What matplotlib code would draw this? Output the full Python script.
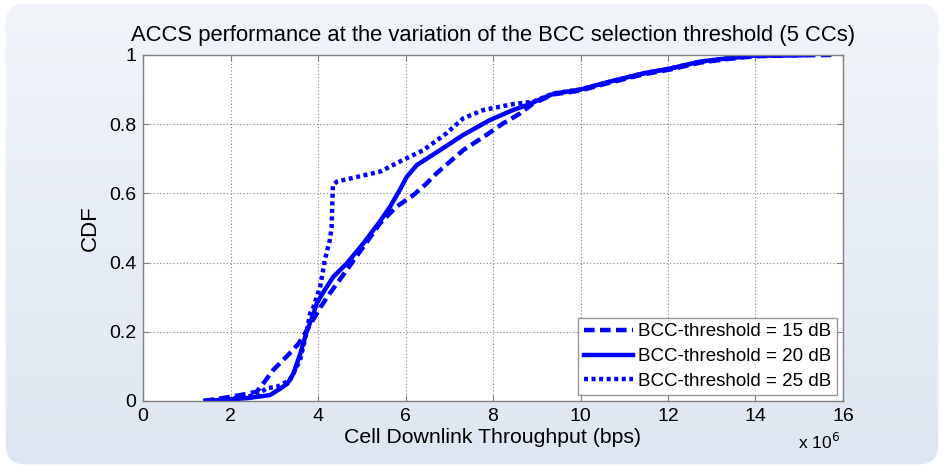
import numpy as np
import matplotlib
matplotlib.use("Agg")
import matplotlib.pyplot as plt
from matplotlib.patches import FancyBboxPatch

plt.rcParams['font.family'] = ['Liberation Sans', 'DejaVu Sans']

# Throughput in units of 1e6 bps, and the CDF value at each point
x_15 = [1.38, 1.8, 2.22, 2.6, 2.75, 2.98, 3.28, 3.55, 3.82, 4.05, 4.27, 4.66, 5.04,
        5.42, 5.80, 6.18, 6.45, 6.71, 7.0, 7.32, 7.85, 8.24, 8.62, 8.92, 9.38, 9.99,
        10.67, 11.44, 12.05, 12.74, 13.34, 13.95, 14.8, 15.78]
y_15 = [0.0, 0.008, 0.017, 0.027, 0.051, 0.09, 0.128, 0.165, 0.22, 0.27, 0.311, 0.379, 0.446,
        0.514, 0.562, 0.595, 0.625, 0.658, 0.69, 0.725, 0.769, 0.803, 0.831, 0.86, 0.886, 0.897,
        0.92, 0.944, 0.958, 0.978, 0.988, 0.996, 0.999, 1.0]

x_20 = [1.45, 1.9, 2.37, 2.9, 3.13, 3.3, 3.44, 3.59, 3.74, 3.89, 3.97, 4.15, 4.35, 4.66,
        5.04, 5.42, 5.65, 5.87, 6.03, 6.26, 6.79, 7.32, 7.93, 8.46, 8.77, 9.38, 9.99,
        10.67, 11.44, 12.05, 12.74, 13.34, 13.95, 14.6, 15.2]
y_20 = [0.0, 0.004, 0.008, 0.017, 0.035, 0.05, 0.08, 0.135, 0.2, 0.25, 0.282, 0.32, 0.359, 0.398,
        0.456, 0.52, 0.562, 0.61, 0.648, 0.682, 0.725, 0.769, 0.812, 0.841, 0.855, 0.888, 0.9,
        0.923, 0.947, 0.961, 0.981, 0.99, 0.998, 0.999, 1.0]

x_25 = [1.38, 2.0, 2.6, 2.83, 3.06, 3.36, 3.59, 3.74, 3.82, 3.89, 4.05, 4.16, 4.27, 4.31,
        4.34, 4.43, 5.42, 5.95, 6.41, 6.94, 7.32, 7.78, 8.46, 8.92, 9.38, 9.99, 10.67,
        11.44, 12.05, 12.74, 13.34, 13.95, 14.6, 15.2]
y_25 = [0.0, 0.006, 0.017, 0.037, 0.041, 0.061, 0.118, 0.2, 0.253, 0.27, 0.33, 0.41, 0.465, 0.5,
        0.624, 0.634, 0.663, 0.697, 0.725, 0.774, 0.817, 0.841, 0.858, 0.865, 0.889, 0.9, 0.923,
        0.947, 0.961, 0.981, 0.99, 0.998, 0.999, 1.0]

labels = ['BCC-threshold = 15 dB', 'BCC-threshold = 20 dB', 'BCC-threshold = 25 dB']
x_ticks = [0, 2, 4, 6, 8, 10, 12, 14, 16]
y_ticks = [0, 0.2, 0.4, 0.6, 0.8, 1]
y_tick_labels = ['0', '0.2', '0.4', '0.6', '0.8', '1']

fig = plt.figure(figsize=(9.44, 4.68), dpi=100, facecolor='white')

# Rounded, softly shaded panel behind the plot
bg_ax = fig.add_axes([0, 0, 1, 1], zorder=-10)
bg_ax.set_xlim(0, 1)
bg_ax.set_ylim(0, 1)
bg_ax.axis('off')
panel = FancyBboxPatch((0.006, 0.008), 0.988, 0.984,
                       boxstyle="round,pad=0,rounding_size=0.02",
                       transform=bg_ax.transAxes, facecolor='none', edgecolor='none',
                       mutation_aspect=944 / 468)
bg_ax.add_patch(panel)
grad = np.linspace(0, 1, 256).reshape(-1, 1)
top_c = np.array([0.945, 0.961, 0.980])
bot_c = np.array([0.870, 0.902, 0.945])
img = top_c[None, None, :] * (1 - grad[..., None]) + bot_c[None, None, :] * grad[..., None]
im = bg_ax.imshow(img, extent=[0, 1, 0, 1], origin='upper', aspect='auto',
                  transform=bg_ax.transAxes)
im.set_clip_path(panel)

ax = fig.add_axes([0.1515, 0.1432, 0.7415, 0.7393])
ax.set_facecolor('white')

lw = 3.2
ax.plot(x_15, y_15, color='#0000ff', lw=lw, ls=(0, (2.4, 1.2)), label=labels[0])
ax.plot(x_20, y_20, color='#0000ff', lw=lw, ls='-', label=labels[1])
ax.plot(x_25, y_25, color='#0000ff', lw=lw, ls=(0, (0.9, 0.8)), label=labels[2])

ax.set_xlim(0, 16)
ax.set_ylim(0, 1)
ax.set_xticks(x_ticks)
ax.set_xticklabels([str(t) for t in x_ticks])
ax.set_yticks(y_ticks)
ax.set_yticklabels(y_tick_labels)
ax.tick_params(direction='in', length=4, labelsize=14, color='#808080', pad=5,
               top=True, right=True)
ax.grid(True, color='#808080', ls=(0, (1, 2)), lw=0.8)
for s in ax.spines.values():
    s.set_color('#808080')
    s.set_linewidth(1.0)

ax.set_title('ACCS performance at the variation of the BCC selection threshold (5 CCs)',
             fontsize=15.8, pad=10)
ax.set_xlabel('Cell Downlink Throughput (bps)', fontsize=15.3, labelpad=2)
ax.set_ylabel('CDF', fontsize=16, labelpad=6)
ax.text(0.996, -0.118, r'x 10$^{6}$', transform=ax.transAxes, fontsize=12.5,
        ha='right', va='center')

leg = ax.legend(loc='lower right', fontsize=13.5, frameon=True, fancybox=False,
                edgecolor='#808080', handlelength=2.6, handletextpad=0.3,
                borderpad=0.3, labelspacing=0.4, borderaxespad=0.3)
leg.get_frame().set_linewidth(1.0)

fig.savefig('out.png', dpi=100, facecolor=fig.get_facecolor())
